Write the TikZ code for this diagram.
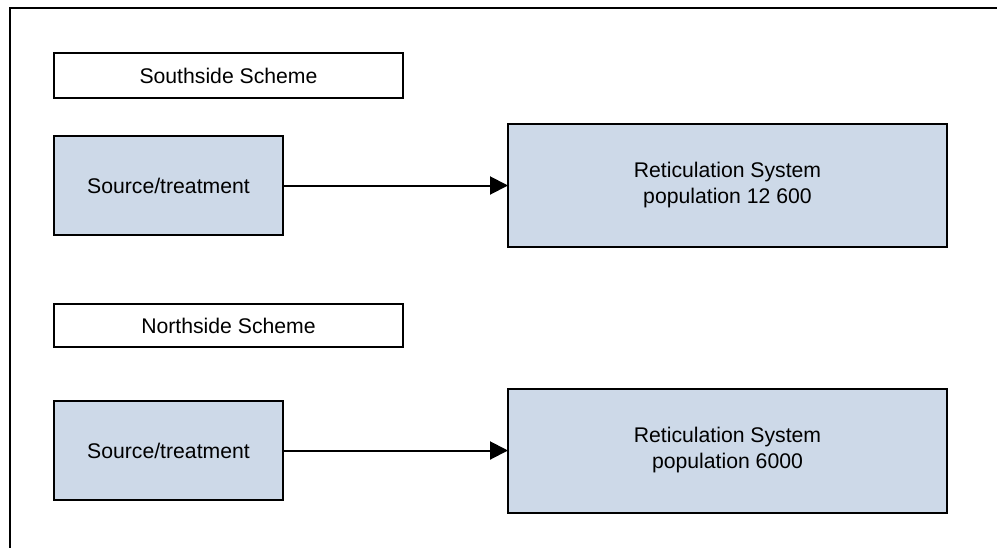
\documentclass[tikz,border=0pt]{standalone}
\usepackage{fontspec}
\setmainfont{Liberation Sans}
\usetikzlibrary{positioning,arrows.meta}

\definecolor{boxfill}{RGB}{205,217,232}

\begin{document}
\begin{tikzpicture}[x=0.5pt,y=-0.5pt,line width=1pt,
    font=\fontsize{10.6pt}{13pt}\selectfont,
    every node/.style={outer sep=0pt,inner sep=0pt},
    headbox/.style={draw,minimum width=174.5pt,minimum height=22.5pt},
    srcbox/.style={draw,fill=boxfill,minimum width=114.5pt,minimum height=49.5pt},
    retbox/.style={draw,fill=boxfill,minimum width=219.5pt,minimum height=61.5pt,align=center},
    flow/.style={-{Triangle[length=9pt,width=9pt]}}]
        \path[use as bounding box,clip] (0,0) rectangle (997,547);
        \draw (10,560) -- (10,8) -- (1010,8);
        \node[headbox,anchor=north west] (shead) at (54,53) {Southside Scheme};
        \node[srcbox,below=19pt of shead.south west,anchor=north west] (ssrc) {Source/treatment};
        \node[retbox,right=112.5pt of ssrc] (sret) {Reticulation System\\population 12 600};
        \node[headbox,below=34.5pt of ssrc.south west,anchor=north west,minimum height=21.5pt] (nhead) {Northside Scheme};
        \node[srcbox,below=27pt of nhead.south west,anchor=north west] (nsrc) {Source/treatment};
        \node[retbox,right=112.5pt of nsrc,minimum height=62pt] (nret) {Reticulation System\\population 6000};
        \path[flow]
            (ssrc) edge (sret)
            (nsrc) edge (nret)
            ;
    \end{tikzpicture}
\end{document}
